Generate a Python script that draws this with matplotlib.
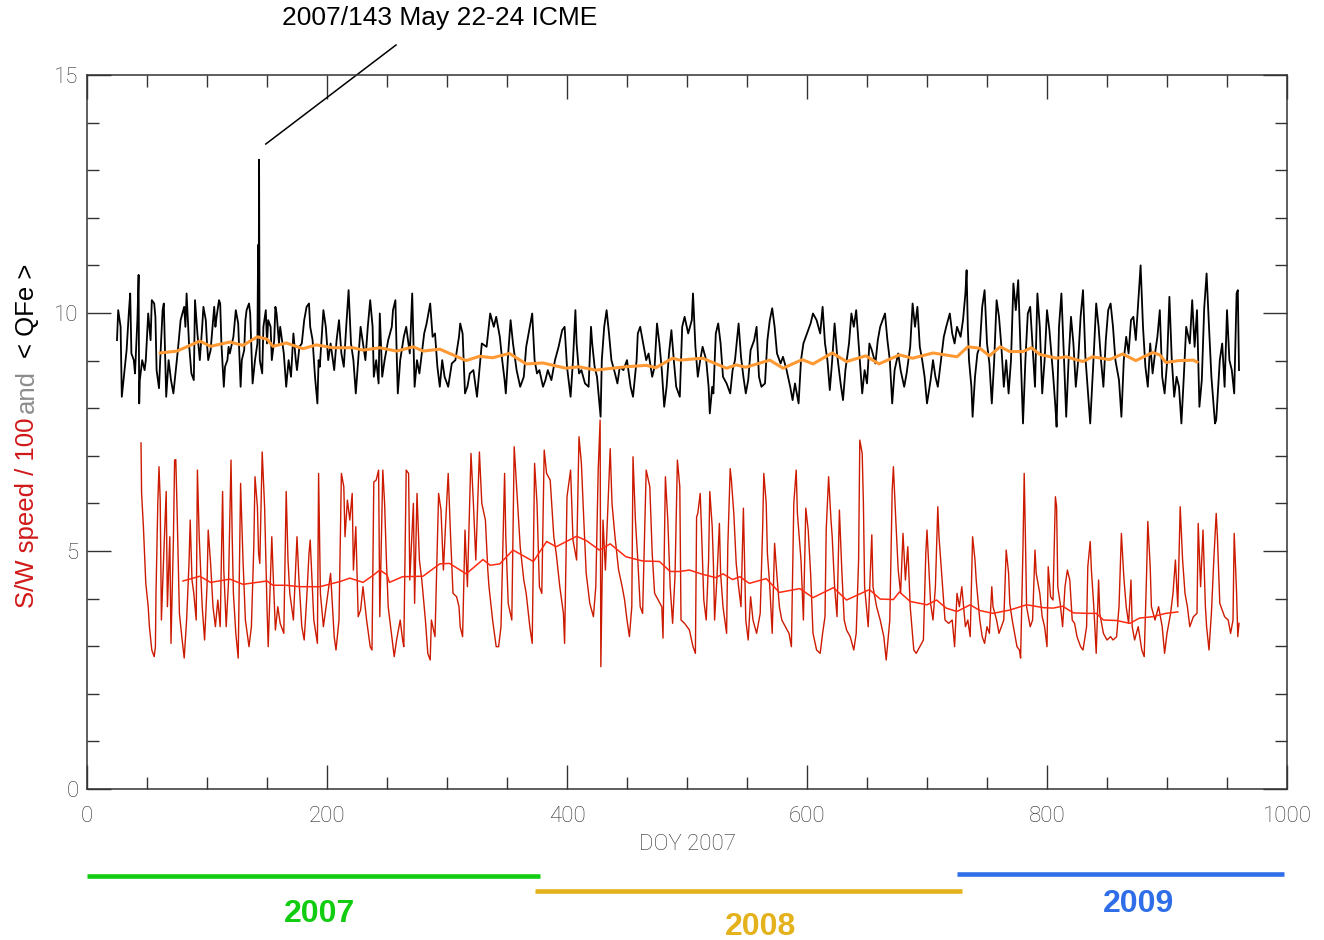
from matplotlib import pyplot as plt
from matplotlib.ticker import MultipleLocator

# <QFe> hourly-ish trace as (day, value)
qfe_pts = [
    (25, 9.43), (26, 10.06), (28, 9.71), (29, 8.24), (31, 8.73), (33, 9.22), (35, 10.06), (36, 10.41),
    (37, 9.15), (39, 9.01), (40, 8.73), (42, 9.85), (43, 10.8), (43.5, 8.1), (44, 8.59), (46, 9.01),
    (48, 8.8), (49, 9.01), (51, 9.99), (53, 9.43), (54, 10.27), (56, 10.2), (57, 9.92), (58, 8.8),
    (60, 8.42), (61, 9.01), (63, 10.06), (64, 10.2), (66, 8.24), (68, 9.01), (70, 8.59), (72, 8.31),
    (74, 8.8), (76, 9.29), (78, 9.85), (81, 10.13), (82, 9.71), (83, 10.41), (85, 9.36), (87, 8.73),
    (89, 8.59), (90, 10.27), (92, 9.57), (94, 9.01), (96, 9.71), (97, 10.13), (99, 9.85), (100, 9.36),
    (101, 9.01), (103, 9.22), (106, 10.13), (107, 9.71), (108, 9.92), (110, 10.27), (111, 10.2), (112, 9.36),
    (114, 8.45), (115, 8.87), (117, 9.01), (118, 9.29), (119, 9.15), (122, 9.5), (124, 10.06), (126, 9.78),
    (128, 8.45), (129, 9.01), (131, 9.22), (132, 9.85), (133, 10.06), (135, 10.2), (136, 9.99), (138, 8.52),
    (140, 9.01), (142, 9.36), (142.6, 11.43), (143, 9.5), (143.4, 13.22), (143.8, 9.3), (144, 9.01), (146, 8.73),
    (147, 9.71), (149, 10.06), (150, 9.36), (151, 9.85), (153, 9.71), (154, 9.01), (156, 9.43), (157, 10.13),
    (158, 9.99), (160, 9.36), (161, 9.71), (164, 9.15), (166, 8.45), (168, 9.01), (170, 8.66), (172, 9.57),
    (174, 9.01), (175, 8.8), (177, 9.29), (179, 9.36), (181, 9.85), (183, 10.13), (185, 10.2), (186, 9.71),
    (188, 9.43), (190, 8.66), (192, 8.1), (193, 9.01), (194, 8.87), (197, 10.06), (199, 9.71), (201, 9.01),
    (203, 9.36), (206, 8.8), (208, 9.43), (210, 9.85), (212, 9.15), (214, 8.87), (216, 9.71), (218, 10.48),
    (220, 9.36), (222, 9.01), (224, 8.31), (226, 9.01), (228, 9.71), (230, 9.36), (232, 9.01), (234, 9.71),
    (236, 10.27), (238, 9.71), (239, 8.66), (241, 9.01), (243, 8.52), (244, 9.99), (246, 8.66), (248, 9.01),
    (251, 9.43), (254, 9.71), (255, 10.06), (257, 10.27), (258, 9.22), (259, 8.31), (261, 9.01), (264, 9.5),
    (266, 9.71), (269, 9.15), (271, 10.41), (273, 8.45), (275, 9.01), (277, 8.73), (279, 9.15), (281, 9.57),
    (283, 9.78), (286, 10.2), (288, 9.5), (290, 9.57), (292, 8.87), (294, 8.45), (296, 9.01), (298, 8.66),
    (301, 8.45), (304, 8.94), (307, 9.01), (310, 9.5), (311, 9.78), (313, 9.57), (315, 8.31), (317, 8.45),
    (319, 8.73), (322, 8.8), (325, 8.24), (327, 8.8), (329, 9.36), (333, 9.29), (336, 9.99), (339, 9.71),
    (341, 9.92), (344, 9.5), (346, 9.01), (348, 8.59), (349, 8.31), (351, 9.15), (353, 9.85), (355, 9.36),
    (358, 8.8), (361, 8.45), (364, 8.66), (366, 9.29), (369, 9.71), (371, 9.99), (373, 9.01), (375, 8.73),
    (377, 8.8), (380, 8.45), (382, 8.59), (384, 8.8), (387, 8.59), (390, 9.01), (393, 9.29), (396, 9.64),
    (398, 9.71), (400, 8.87), (403, 8.24), (405, 9.01), (407, 10.06), (408, 9.36), (410, 8.73), (412, 8.8),
    (415, 8.52), (418, 8.45), (420, 9.71), (421, 9.36), (423, 8.87), (425, 8.66), (428, 7.82), (429, 9.01),
    (431, 9.71), (433, 10.06), (435, 9.57), (437, 9.01), (440, 8.73), (442, 8.52), (444, 8.87), (447, 8.8),
    (450, 9.01), (453, 8.45), (455, 8.24), (458, 9.01), (459, 9.57), (461, 9.71), (464, 9.29), (466, 9.01),
    (468, 9.15), (471, 8.66), (473, 8.87), (475, 9.78), (477, 9.36), (479, 8.8), (481, 8.03), (483, 8.45),
    (485, 9.15), (487, 9.64), (489, 9.01), (491, 8.45), (494, 8.24), (496, 9.71), (498, 9.92), (501, 9.57),
    (504, 9.85), (505, 10.41), (507, 9.29), (509, 8.66), (511, 9.01), (513, 9.29), (516, 9.01), (518, 8.45),
    (519, 7.89), (521, 8.45), (522, 8.31), (524, 9.57), (526, 9.78), (528, 9.36), (530, 8.66), (533, 8.52),
    (536, 8.31), (538, 8.8), (540, 9.01), (543, 9.78), (545, 9.08), (547, 8.66), (549, 8.31), (551, 8.59),
    (553, 9.22), (556, 9.43), (558, 9.71), (560, 8.66), (562, 8.45), (565, 8.52), (567, 9.43), (569, 9.85),
    (571, 10.1), (573, 9.71), (575, 9.15), (578, 8.94), (580, 9.08), (583, 8.8), (586, 8.45), (588, 8.17),
    (590, 8.52), (593, 8.1), (595, 9.01), (597, 9.36), (599, 9.5), (603, 9.78), (605, 9.99), (608, 9.85),
    (611, 9.57), (613, 10.13), (615, 9.36), (617, 9.01), (619, 8.38), (621, 9.01), (623, 9.78), (625, 9.15),
    (628, 8.52), (630, 8.17), (632, 8.8), (635, 9.36), (637, 9.99), (639, 9.71), (641, 10.06), (644, 9.01),
    (646, 8.31), (648, 8.8), (650, 8.52), (652, 9.36), (654, 9.22), (657, 8.94), (659, 9.43), (661, 9.71),
    (663, 9.85), (665, 9.99), (667, 9.43), (669, 9.01), (671, 8.1), (673, 8.8), (676, 9.15), (678, 8.8),
    (681, 8.45), (683, 8.73), (686, 9.29), (688, 10.2), (690, 9.71), (692, 10.13), (694, 9.29), (696, 9.01),
    (698, 8.66), (700, 8.1), (703, 8.59), (705, 9.01), (707, 8.66), (709, 8.45), (711, 8.87), (714, 9.5),
    (716, 9.71), (719, 9.99), (721, 9.57), (723, 9.36), (725, 9.71), (728, 9.5), (730, 9.85), (732, 10.41),
    (733, 10.9), (734, 9.71), (735, 9.01), (737, 8.45), (738, 7.82), (740, 8.66), (742, 9.15), (744, 9.29),
    (746, 10.13), (748, 10.48), (750, 9.36), (752, 8.94), (754, 8.1), (756, 9.01), (758, 10.27), (760, 9.92),
    (762, 9.29), (764, 8.45), (766, 9.01), (768, 8.31), (770, 9.01), (772, 10.62), (774, 10.06), (776, 10.69),
    (778, 9.15), (780, 7.68), (782, 9.01), (784, 9.99), (786, 10.13), (788, 9.29), (790, 8.45), (792, 10.41),
    (794, 9.71), (796, 8.31), (798, 9.01), (800, 10.06), (802, 9.64), (805, 8.73), (807, 8.03), (808, 7.61),
    (810, 9.71), (812, 10.41), (814, 9.15), (816, 7.82), (818, 9.01), (820, 9.92), (822, 9.36), (824, 8.45),
    (826, 9.01), (828, 9.92), (830, 10.48), (832, 9.08), (834, 8.38), (836, 7.68), (839, 9.15), (841, 10.2),
    (843, 9.71), (845, 9.01), (847, 8.45), (849, 9.43), (851, 10.06), (853, 10.2), (855, 9.71), (857, 9.01),
    (860, 8.59), (862, 7.82), (864, 9.01), (866, 9.5), (868, 9.15), (870, 9.85), (872, 9.92), (874, 9.43),
    (876, 10.2), (878, 11.0), (880, 9.71), (882, 8.87), (884, 8.45), (886, 9.36), (888, 8.73), (890, 9.15),
    (892, 9.5), (894, 10.06), (896, 8.66), (898, 8.31), (900, 8.94), (902, 10.34), (904, 9.01), (906, 8.24),
    (908, 8.66), (910, 8.45), (912, 7.68), (914, 8.66), (916, 9.71), (919, 9.36), (921, 10.27), (923, 9.29),
    (925, 10.06), (927, 8.03), (929, 8.59), (931, 10.1), (933, 10.83), (935, 9.71), (937, 8.66), (940, 7.68),
    (941, 7.75), (944, 9.01), (946, 9.36), (948, 8.45), (950, 10.06), (952, 9.01), (954, 8.8), (956, 8.31),
    (958, 10.41), (959, 10.48), (960, 8.8),
]

# running mean of <QFe>
qfe_avg_pts = [
    (61, 9.16), (75, 9.2), (94, 9.41), (103, 9.3), (119, 9.39), (130, 9.32), (142, 9.5), (150, 9.45),
    (155, 9.3), (166, 9.37), (180, 9.25), (191, 9.33), (205, 9.27), (222, 9.27), (230, 9.22), (244, 9.27),
    (258, 9.2), (272, 9.29), (280, 9.2), (294, 9.24), (316, 9.0), (327, 9.09), (338, 9.06), (352, 9.15),
    (366, 8.93), (380, 8.95), (399, 8.84), (410, 8.87), (424, 8.8), (438, 8.84), (449, 8.87), (466, 8.9),
    (474, 8.85), (488, 9.05), (494, 9.01), (513, 9.05), (533, 8.84), (541, 8.91), (549, 8.86), (569, 9.01),
    (580, 8.84), (596, 9.02), (605, 8.93), (621, 9.16), (633, 8.98), (649, 9.1), (660, 8.93), (677, 9.12),
    (688, 9.05), (705, 9.16), (725, 9.08), (734, 9.29), (744, 9.26), (752, 9.1), (761, 9.29), (769, 9.19),
    (780, 9.19), (787, 9.27), (794, 9.13), (808, 9.05), (816, 9.08), (830, 8.98), (838, 9.08), (852, 9.02),
    (863, 9.14), (874, 9.0), (888, 9.17), (894, 9.12), (899, 8.96), (910, 9.0), (922, 9.01), (925, 8.97),
]

# solar wind speed / 100
sw_pts = [
    (45, 7.27), (45.5, 6.21), (47, 5.51), (49, 4.32), (51, 3.83), (52, 3.41), (54, 2.92), (56, 2.78),
    (57, 2.99), (57.5, 4.11), (59, 6.0), (60, 6.77), (61, 6.07), (62, 3.55), (64, 4.95), (66, 6.25),
    (67, 3.83), (69, 5.3), (70, 3.06), (72, 5.23), (73, 6.91), (74, 6.92), (75, 5.93), (77, 3.69),
    (79, 3.2), (81, 2.75), (83, 3.55), (85, 4.74), (86, 5.65), (87.5, 4.39), (89, 4.11), (91, 3.55),
    (92, 6.7), (93.5, 5.3), (96, 3.83), (98, 3.13), (100, 4.25), (101, 5.44), (103, 4.74), (105, 3.83),
    (107, 3.41), (109, 3.97), (111, 3.41), (113, 6.25), (114, 4.6), (116, 3.41), (118, 4.39), (120, 6.91),
    (121, 5.3), (122, 4.11), (124, 3.27), (126, 2.75), (128, 6.42), (130, 4.81), (132, 3.55), (135, 2.99),
    (137, 3.41), (139, 5.09), (140, 6.56), (142, 5.93), (143, 4.95), (144, 4.74), (146, 7.08), (148, 5.93),
    (150, 3.83), (151, 2.99), (154, 5.3), (155, 4.6), (157, 3.34), (159, 3.83), (161, 3.48), (164, 3.27),
    (166, 6.25), (167.5, 4.81), (169, 4.11), (172, 3.55), (175, 5.3), (176.5, 4.46), (179, 3.41), (181, 3.13),
    (183, 3.97), (185, 4.95), (186, 5.23), (189, 3.55), (192, 3.06), (193, 6.63), (194.5, 4.11), (197, 3.41),
    (200, 3.97), (203, 4.53), (206, 3.2), (207.5, 2.92), (210, 3.55), (212, 6.63), (214, 6.35), (215, 5.3),
    (217, 6.07), (219, 5.65), (221, 6.21), (222, 4.6), (224, 5.51), (226, 3.62), (228, 3.76), (230, 4.25),
    (233, 3.55), (236, 2.99), (237.5, 2.92), (239, 6.45), (241, 6.49), (243, 6.7), (244, 3.62), (246.5, 6.7),
    (248, 6.0), (249.5, 4.81), (251, 3.83), (254, 3.2), (256, 2.78), (258, 3.13), (261, 3.55), (263, 3.13),
    (264, 2.99), (266, 6.7), (268, 6.63), (269, 4.39), (272, 6.0), (273, 3.9), (275, 6.21), (277, 4.81),
    (279, 4.39), (282, 3.55), (284, 2.85), (286, 2.71), (287, 3.55), (290, 3.2), (293, 6.21), (295, 5.86),
    (297, 4.6), (299, 5.65), (301, 6.63), (303, 5.3), (305, 4.11), (308, 4.04), (310, 3.83), (311, 3.41),
    (313, 3.2), (315, 5.44), (317, 4.25), (320, 7.05), (322, 6.0), (324, 4.81), (327, 7.08), (329, 6.0),
    (332, 5.65), (334, 4.6), (335, 4.25), (338, 3.55), (341, 2.99), (343, 2.99), (345, 3.41), (348, 6.63),
    (349, 5.3), (351, 3.9), (354, 3.55), (356, 7.19), (358, 6.35), (361, 5.09), (364, 4.39), (366, 4.11),
    (369, 3.41), (371, 3.06), (373, 6.84), (375, 6.0), (377, 4.25), (379, 4.11), (381, 7.12), (383, 6.63),
    (386, 6.49), (389, 5.3), (391, 4.95), (394, 4.25), (397, 3.69), (398, 3.06), (400, 6.14), (403, 6.7),
    (405, 5.23), (408, 4.81), (410, 7.4), (412, 6.84), (414, 5.65), (416, 4.53), (419, 3.9), (422, 3.62),
    (424, 4.25), (426, 6.7), (427.6, 7.75), (428.2, 2.57), (430, 5.65), (432, 4.6), (436, 7.15), (437.5, 6.0),
    (440, 5.3), (443, 4.6), (446, 4.25), (448, 3.97), (450, 3.55), (452, 3.2), (454, 3.83), (455, 6.98),
    (457, 5.65), (459, 4.81), (461, 3.83), (463, 3.69), (466, 6.7), (469, 6.35), (471, 4.95), (473, 4.11),
    (476, 3.97), (479, 3.83), (480, 3.17), (482, 6.56), (484, 5.65), (486, 4.25), (488, 3.48), (490, 4.46),
    (492, 6.91), (494, 6.35), (495, 3.55), (498, 3.48), (502, 3.34), (505, 2.99), (507, 2.85), (508, 5.72),
    (509, 5.79), (511, 6.21), (512, 5.51), (514, 3.97), (516, 3.55), (518, 4.81), (519, 6.25), (521, 5.51),
    (522, 4.74), (523, 3.55), (525, 4.46), (527, 5.58), (528, 4.53), (530, 3.83), (533, 3.27), (534, 5.09),
    (536, 6.73), (537, 6.49), (539, 5.79), (541, 4.74), (543, 4.25), (545, 3.83), (547, 5.9), (549, 3.55),
    (551, 3.13), (553, 4.04), (555, 3.55), (558, 3.27), (561, 3.69), (563, 5.44), (564, 6.63), (566, 6.0),
    (567, 4.95), (569, 4.25), (571, 3.27), (573, 5.16), (575, 4.46), (577, 3.83), (579, 3.55), (582, 3.41),
    (585, 3.27), (587, 2.99), (589, 6.0), (591, 6.7), (592, 5.79), (595, 4.81), (597, 3.55), (599, 5.9),
    (601, 5.44), (603, 4.53), (605, 3.27), (608, 2.92), (611, 2.85), (613, 3.27), (615, 3.62), (616, 5.44),
    (618, 6.56), (620, 5.65), (621, 5.3), (623, 4.25), (625, 3.62), (627, 5.86), (629, 4.6), (631, 3.55),
    (633, 3.34), (636, 3.2), (639, 2.92), (641, 3.27), (643, 4.81), (644, 7.33), (646, 7.05), (647, 6.0),
    (648, 4.25), (651, 3.41), (654, 5.34), (655, 4.25), (658, 3.83), (661, 3.55), (664, 3.2), (666, 2.71),
    (669, 3.55), (671, 6.28), (672, 6.77), (674, 5.65), (676, 4.6), (678, 4.11), (680, 5.37), (682, 4.39),
    (684, 5.09), (686, 3.83), (689, 2.92), (691, 2.85), (694, 2.99), (697, 3.13), (699, 4.95), (700, 5.44),
    (703, 3.9), (705, 3.55), (707, 4.25), (709, 5.93), (710, 5.3), (712, 4.6), (715, 3.55), (718, 3.48),
    (721, 3.55), (723, 2.99), (725, 4.11), (727, 3.83), (729, 4.25), (732, 3.41), (734, 3.55), (736, 3.2),
    (738, 5.3), (740, 4.81), (741, 4.39), (744, 3.55), (746, 3.2), (748, 3.06), (750, 3.41), (752, 3.27),
    (754, 4.25), (755, 3.83), (758, 3.55), (760, 3.27), (762, 3.41), (764, 3.55), (766, 5.02), (768, 4.53),
    (769, 3.9), (771, 3.55), (773, 3.27), (775, 2.99), (777, 2.92), (778, 2.75), (780, 5.09), (781, 6.63),
    (782, 5.3), (783, 3.83), (786, 3.41), (788, 3.55), (790, 5.02), (791, 4.53), (794, 4.11), (796, 3.62),
    (798, 3.41), (800, 2.99), (801, 4.67), (803, 4.04), (805, 3.97), (807, 6.14), (808, 5.93), (809, 4.25),
    (811, 3.9), (813, 3.41), (815, 4.25), (817, 4.6), (819, 4.39), (821, 3.55), (823, 3.48), (825, 3.2),
    (828, 2.99), (830, 2.92), (833, 3.41), (834, 4.67), (836, 5.2), (837, 4.6), (839, 3.83), (841, 2.85),
    (843, 4.39), (844, 3.69), (847, 3.27), (850, 3.13), (853, 3.2), (855, 3.13), (858, 3.2), (860, 3.83),
    (862, 5.37), (864, 4.46), (866, 3.83), (868, 3.48), (870, 4.39), (871, 3.41), (873, 3.13), (876, 3.41),
    (879, 2.92), (881, 2.78), (883, 4.53), (884, 5.62), (886, 4.67), (887, 3.83), (890, 3.55), (893, 3.83),
    (896, 3.41), (898, 2.85), (900, 3.27), (903, 3.69), (905, 4.11), (907, 4.81), (909, 3.83), (911, 5.93),
    (913, 4.81), (915, 4.11), (917, 3.83), (919, 3.41), (922, 3.62), (925, 3.69), (926, 5.58), (928, 4.25),
    (930, 5.44), (932, 3.83), (933, 3.41), (935, 2.92), (937, 3.69), (939, 4.81), (941, 5.79), (942, 5.3),
    (944, 3.9), (946, 3.76), (948, 3.62), (951, 3.55), (953, 3.27), (955, 3.55), (956, 5.37), (958, 4.11),
    (959, 3.2), (960, 3.48),
]

# running mean of speed / 100
sw_avg_pts = [
    (80, 4.37), (94, 4.47), (103, 4.34), (119, 4.41), (130, 4.3), (150, 4.37), (155, 4.28), (166, 4.28),
    (177, 4.25), (194, 4.25), (211, 4.36), (219, 4.43), (230, 4.34), (239, 4.5), (244, 4.6), (250, 4.5),
    (252, 4.34), (263, 4.46), (280, 4.47), (294, 4.73), (302, 4.74), (316, 4.52), (330, 4.82), (336, 4.7),
    (344, 4.73), (355, 5.02), (372, 4.78), (383, 5.2), (391, 5.09), (408, 5.31), (416, 5.22), (427, 5.02),
    (436, 5.15), (449, 4.88), (463, 4.79), (477, 4.78), (486, 4.57), (494, 4.57), (502, 4.6), (513, 4.51),
    (524, 4.44), (530, 4.52), (538, 4.4), (544, 4.46), (552, 4.32), (566, 4.42), (577, 4.13), (594, 4.21),
    (605, 4.02), (622, 4.23), (633, 3.97), (652, 4.19), (661, 3.99), (672, 3.98), (677, 4.14), (686, 3.94),
    (700, 3.87), (708, 3.97), (716, 3.8), (725, 3.73), (736, 3.87), (744, 3.75), (755, 3.69), (769, 3.76),
    (783, 3.87), (797, 3.81), (805, 3.8), (813, 3.84), (822, 3.7), (833, 3.69), (841, 3.69), (847, 3.55),
    (858, 3.54), (869, 3.48), (877, 3.59), (888, 3.62), (899, 3.69), (909, 3.72),
]

years = ["2007", "2008", "2009"]
year_start = [0, 373.3, 725]
year_end = [377.5, 729.2, 997.5]
year_label_x = [194, 561, 876]
year_colors = ["#12cc12", "#e4b21c", "#2f6ee8"]

tick_font = dict(family="Roboto", weight="light", size=16, color="#2e2e2e")

fig = plt.figure(figsize=(13.24, 9.40), dpi=100)
ax = fig.add_axes([87 / 1324, 1 - 789 / 940, 1200 / 1324, 714 / 940])

qd, qv = zip(*qfe_pts)
ad, av = zip(*qfe_avg_pts)
sd, sv = zip(*sw_pts)
md, mv = zip(*sw_avg_pts)

ax.plot(qd, qv, color="black", lw=1.3)
ax.plot(ad, av, color="#ff9933", lw=2.2)
ax.plot(sd, sv, color="#cc1a00", lw=1.0)
ax.plot(md, mv, color="#ff2a10", lw=1.1)

ax.set_xlim(0, 1000)
ax.set_ylim(0, 15)
ax.xaxis.set_major_locator(MultipleLocator(200))
ax.xaxis.set_minor_locator(MultipleLocator(50))
ax.yaxis.set_major_locator(MultipleLocator(5))
ax.yaxis.set_minor_locator(MultipleLocator(1))
ax.tick_params(which="both", direction="in", top=True, right=True, color="#333333", width=1.0)
ax.tick_params(which="major", length=17)
ax.tick_params(which="minor", length=8.5)
ax.tick_params(axis="x", pad=12)
ax.tick_params(axis="y", pad=6)
for lab in ax.get_xticklabels() + ax.get_yticklabels():
    lab.set(**tick_font)
for sp in ax.spines.values():
    sp.set_color("#333333")
    sp.set_linewidth(1.1)

ax.text(500, -1.16, "DOY 2007", ha="center", va="center", **tick_font)

# ICME marker
ax.plot([149, 257.5], [13.55, 15.63], color="black", lw=1.1, clip_on=False)
ax.text(294, 16.2, "2007/143 May 22-24 ICME", ha="center", va="center",
        family="Liberation Sans", size=19)

# y label in three colours
lab_font = dict(family="Liberation Sans", size=18.5, rotation=90, ha="center", va="bottom")
fig.text(27 / 1324, 1 - 608 / 940, "S/W speed / 100", color="#d01818", **lab_font)
fig.text(27 / 1324, 1 - 413 / 940, "and", color="#8c8c8c", **lab_font)
fig.text(27 / 1324, 1 - 358 / 940, "< QFe >", color="black", **lab_font)

# year bars
bar_y = [-1.83, -2.14, -1.79]
text_y = [-2.63, -2.9, -2.41]
for i in range(3):
    ax.plot([year_start[i], year_end[i]], [bar_y[i], bar_y[i]], color=year_colors[i],
            lw=3.3, solid_capstyle="butt", clip_on=False)
    ax.text(year_label_x[i], text_y[i], years[i], color=year_colors[i], ha="center", va="center",
            family="Liberation Sans", weight="bold", size=23)

fig.savefig("out.png", dpi=100)
